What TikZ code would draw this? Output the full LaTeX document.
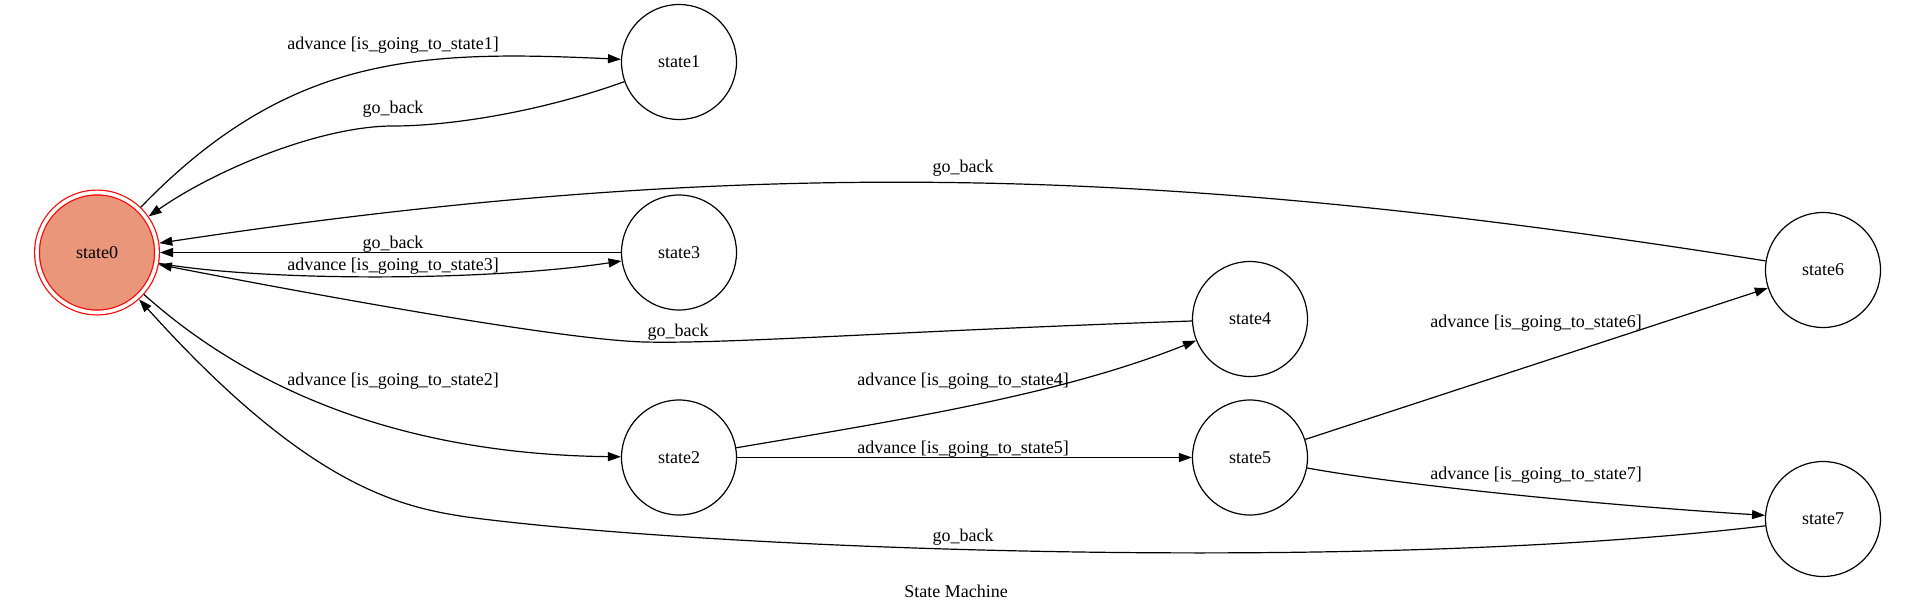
\documentclass[tikz,border=0pt]{standalone}
\usepackage{fontspec}
\setmainfont{Liberation Serif}
\usetikzlibrary{arrows.meta,automata}
\definecolor{startfill}{RGB}{233,150,122}

\begin{document}
\begin{tikzpicture}[x=1pt,y=-1pt,>={Triangle[length=13pt,width=9pt]},
                    line width=1.2pt,font=\fontsize{18}{21}\selectfont,
                    every state/.style={draw=black,fill=white,minimum size=115pt,inner sep=0pt},
                    accepting/.style={draw=red,fill=startfill,double=white,
                                      double distance=3.6pt,outer sep=3pt,minimum size=120pt},
                    lbl/.style={inner sep=0pt}]
%  \tikzstyle{every state}=[fill=white,draw=black]
  \useasboundingbox (0,0) rectangle (1914,611);

  \node[state,accepting] (s0) at (97,252.5)   {state0};
  \node[state]           (s1) at (679,62)     {state1};
  \node[state]           (s3) at (679,252.5)  {state3};
  \node[state]           (s2) at (679,457.5)  {state2};
  \node[state]           (s4) at (1250,319)   {state4};
  \node[state]           (s5) at (1250,457.5) {state5};
  \node[state]           (s6) at (1823,270)   {state6};
  \node[state]           (s7) at (1823,519)   {state7};

  \draw[->] (s0) .. controls (289,54) and (420,50) .. (s1)
        node[lbl] (l01) at (393,45) {advance [is\_going\_to\_state1]};
  \draw[->] (s1) .. controls (540,112) and (450,126) .. (393,126)
                 .. controls (320,126) and (215,170) .. (s0)
        node[lbl] (l10) at (393,109) {go\_back};
  \draw[->] (s6) .. controls (1173,167) and (757,153) .. (s0)
        node[lbl] (l60) at (963,168) {go\_back};
  \draw[->] (s3) -- (s0)
        node[lbl] (l30) at (393,244) {go\_back};
  \draw[->] (s0) .. controls (260,281) and (480,282) .. (s3)
        node[lbl] (l03) at (393,266) {advance [is\_going\_to\_state3]};
  \draw[->] (s4) .. controls (900,331) and (730,344) .. (645,342)
                 .. controls (560,340) and (300,292) .. (s0)
        node[lbl] (l40) at (678,332) {go\_back};
  \draw[->] (s0) .. controls (290,425) and (470,455) .. (s2)
        node[lbl] (l02) at (393,381) {advance [is\_going\_to\_state2]};
  \draw[->] (s2) .. controls (900,420) and (1060,395) .. (s4)
        node[lbl] (l24) at (963,381) {advance [is\_going\_to\_state4]};
  \draw[->] (s2) -- (s5)
        node[lbl] (l25) at (963,449) {advance [is\_going\_to\_state5]};
  \draw[->] (s5) -- (s6)
        node[lbl] (l56) at (1536,323) {advance [is\_going\_to\_state6]};
  \draw[->] (s5) .. controls (1400,485) and (1600,505) .. (s7)
        node[lbl] (l57) at (1536,475) {advance [is\_going\_to\_state7]};
  \draw[->] (s7) .. controls (1350,575) and (700,548) .. (467,517)
                 .. controls (400,507) and (308,487) .. (s0)
        node[lbl] (l70) at (963,537) {go\_back};

  \node (title) at (956,591) {State Machine};
\end{tikzpicture}
\end{document}
